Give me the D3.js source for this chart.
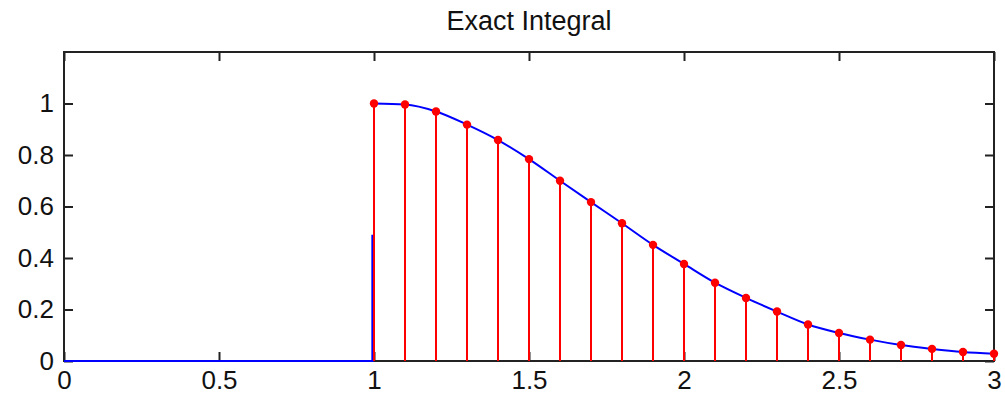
<!DOCTYPE html>
<html>
<head>
<meta charset="utf-8">
<script src="https://cdn.jsdelivr.net/npm/d3@7/dist/d3.min.js"></script>
<style>
  body { margin: 0; background: #fff; }
  text { font-family: "Liberation Sans", Arial, sans-serif; fill: #111; }
</style>
</head>
<body>
<div id="chart"></div>
<script>
// stem samples
var stemX = [1, 1.1, 1.2, 1.3, 1.4, 1.5, 1.6, 1.7, 1.8, 1.9, 2, 2.1, 2.2, 2.3, 2.4, 2.5, 2.6, 2.7, 2.8, 2.9, 3];
var stemY = [1, 0.996, 0.969, 0.918, 0.858, 0.784, 0.700, 0.617, 0.535, 0.451, 0.377, 0.304, 0.245, 0.192, 0.142, 0.109, 0.083, 0.062, 0.047, 0.035, 0.028];

// blue line before the jump
var leadX = [0, 0.995, 0.995];
var leadY = [0, 0, 0.49];

var xTicks = [0, 0.5, 1, 1.5, 2, 2.5, 3];
var yTicks = [0, 0.2, 0.4, 0.6, 0.8, 1];

var W = 1005, H = 400;
var padL = 64, padR = 994, padT = 52, padB = 361;

var svg = d3.select('#chart').append('svg')
    .attr('width', W)
    .attr('height', H);

var x = d3.scaleLinear().domain([0, 3]).range([padL, padR]);
var y = d3.scaleLinear().domain([0, 1.2]).range([padB, padT]);

var tickLen = 9;

// axes with inward ticks, on all four sides
function styleAxis(g) {
    g.select('.domain').remove();
    g.selectAll('.tick line').attr('stroke', '#222').attr('stroke-width', 2);
    g.selectAll('.tick text').style('font-size', '26px').attr('fill', '#111');
}

svg.append('g')
    .attr('transform', 'translate(0,' + padB + ')')
    .call(d3.axisBottom(x).tickValues(xTicks).tickSizeInner(-tickLen).tickSizeOuter(0)
        .tickPadding(10).tickFormat(d3.format('')))
    .call(styleAxis);

svg.append('g')
    .attr('transform', 'translate(0,' + padT + ')')
    .call(d3.axisTop(x).tickValues(xTicks).tickSizeInner(-tickLen).tickSizeOuter(0).tickFormat(''))
    .call(styleAxis);

svg.append('g')
    .attr('transform', 'translate(' + padL + ',0)')
    .call(d3.axisLeft(y).tickValues(yTicks).tickSizeInner(-tickLen).tickSizeOuter(0)
        .tickPadding(10).tickFormat(d3.format('')))
    .call(styleAxis);

svg.append('g')
    .attr('transform', 'translate(' + padR + ',0)')
    .call(d3.axisRight(y).tickValues(yTicks).tickSizeInner(-tickLen).tickSizeOuter(0).tickFormat(''))
    .call(styleAxis);

// box
svg.append('rect')
    .attr('x', padL).attr('y', padT)
    .attr('width', padR - padL).attr('height', padB - padT)
    .attr('fill', 'none')
    .attr('stroke', '#222')
    .attr('stroke-width', 2);

// stem baseline
svg.append('line')
    .attr('x1', x(stemX[0])).attr('x2', x(stemX[stemX.length - 1]))
    .attr('y1', y(0)).attr('y2', y(0))
    .attr('stroke', '#222').attr('stroke-width', 2);

// blue exact curve
var lead = leadX.map(function(d, i) { return [d, leadY[i]]; });
var curve = stemX.map(function(d, i) { return [d, stemY[i]]; });

svg.append('path')
    .datum(lead)
    .attr('d', d3.line().x(function(d) { return x(d[0]); }).y(function(d) { return y(d[1]); }))
    .attr('fill', 'none')
    .attr('stroke', '#0000ff')
    .attr('stroke-width', 2.2);

svg.append('path')
    .datum(curve)
    .attr('d', d3.line().curve(d3.curveMonotoneX)
        .x(function(d) { return x(d[0]); }).y(function(d) { return y(d[1]); }))
    .attr('fill', 'none')
    .attr('stroke', '#0000ff')
    .attr('stroke-width', 2);

// red stems
svg.selectAll('.stem')
    .data(curve)
    .enter().append('line')
    .attr('class', 'stem')
    .attr('x1', function(d) { return x(d[0]); })
    .attr('x2', function(d) { return x(d[0]); })
    .attr('y1', y(0))
    .attr('y2', function(d) { return y(d[1]); })
    .attr('stroke', '#ff0000')
    .attr('stroke-width', 2);

svg.selectAll('.dot')
    .data(curve)
    .enter().append('circle')
    .attr('class', 'dot')
    .attr('cx', function(d) { return x(d[0]); })
    .attr('cy', function(d) { return y(d[1]); })
    .attr('r', 4.2)
    .attr('fill', '#ff0000');

// title
svg.append('text')
    .attr('x', (padL + padR) / 2)
    .attr('y', 30)
    .attr('text-anchor', 'middle')
    .style('font-size', '27px')
    .text('Exact Integral');
</script>
</body>
</html>
